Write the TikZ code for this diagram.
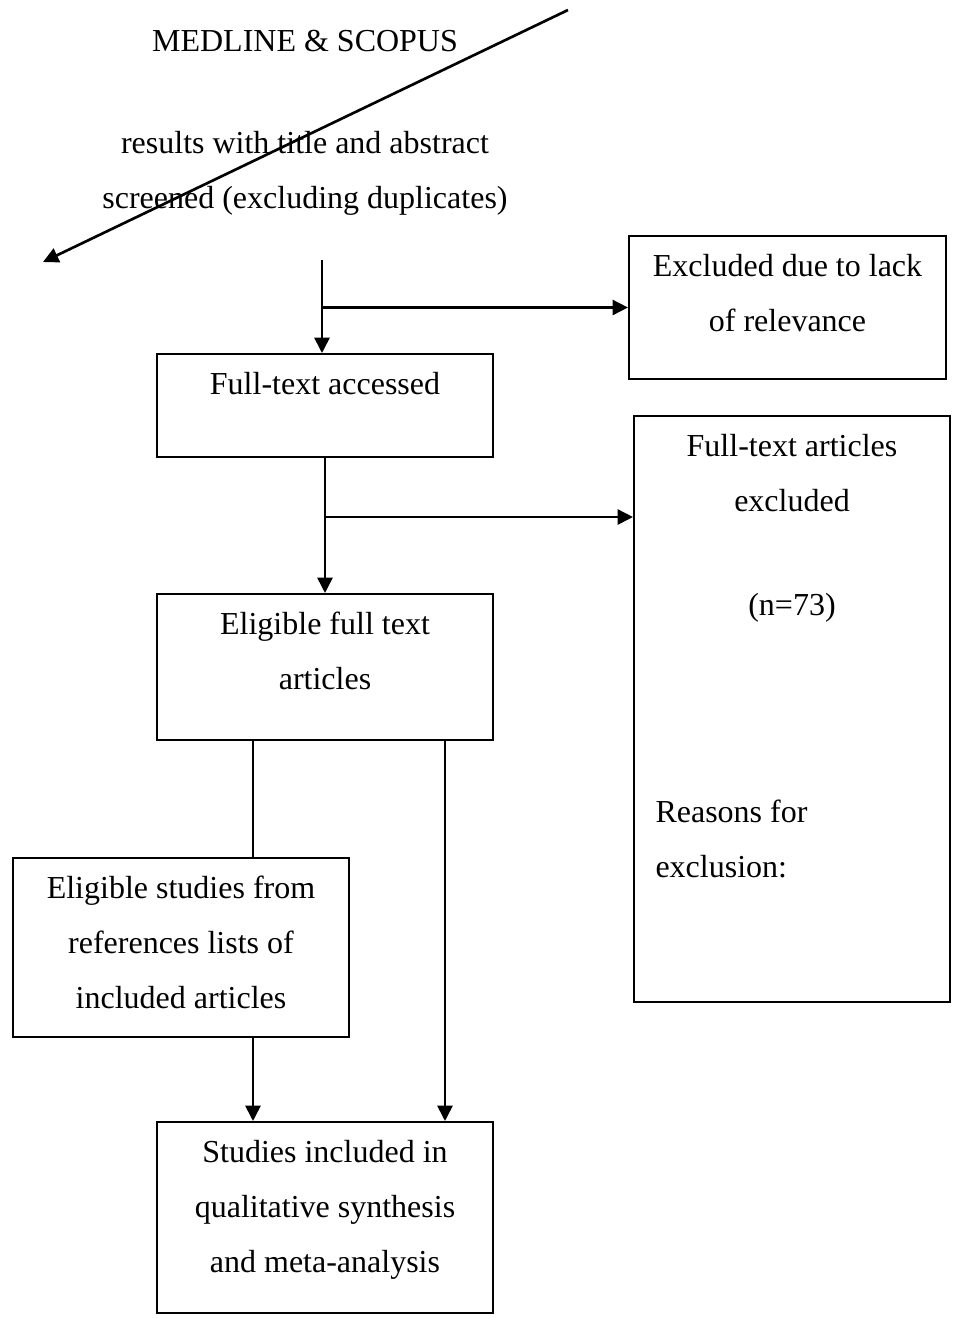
\documentclass[tikz,border=0pt]{standalone}
\usepackage{fontspec}
\setmainfont{Liberation Serif}
\usetikzlibrary{arrows.meta,positioning}
\tikzset{
  box/.style={draw,line width=0.7pt,inner sep=0pt},
  txt/.style={align=center,inner sep=0pt,font=\fontsize{12}{20.6}\selectfont},
  ln/.style={line width=1.1pt},
  arr/.style={ln,-{Triangle[length=5.8pt,width=5.6pt]}}
}
\begin{document}
\begin{tikzpicture}[x=0.375pt,y=-0.375pt]
  \useasboundingbox (0,0) rectangle (953,1319);
  % search
  \node[txt] (db) at (305,41) {MEDLINE \& SCOPUS};
  \node[txt] (screen) at (305,173) {results with title and abstract\\screened (excluding duplicates)};
  % boxes
  \node[box,minimum width=118.9pt,minimum height=53.6pt] (excl) at (787.5,307.5) {};
  \node[box,minimum width=126pt,minimum height=38.6pt] (acc) at (325,405.5) {};
  \node[box,minimum width=118.5pt,minimum height=219.75pt] (full) at (792,709) {};
  \node[box,minimum width=126pt,minimum height=54.75pt] (elig) at (325,667) {};
  \node[box,minimum width=126pt,minimum height=67.1pt] (refs) at (181,947.5) {};
  \node[box,minimum width=126pt,minimum height=71.6pt] (incl) at (325,1217.5) {};
  % box texts
  \node[txt,below=7pt of excl.north] (exclt) {Excluded due to lack\\of relevance};
  \node[txt,below=7pt of acc.north] (acct) {Full-text accessed};
  \node[txt,below=7pt of full.north] (fullt) {Full-text articles\\excluded};
  \node[txt] (nt) at (792,608) {(n=73)};
  \node[txt,align=left,anchor=west] (why) at (655,839) {Reasons for\\exclusion:};
  \node[txt,below=7pt of elig.north] (eligt) {Eligible full text\\articles};
  \node[txt,below=7pt of refs.north] (refst) {Eligible studies from\\references lists of\\included articles};
  \node[txt,below=7pt of incl.north] (inclt) {Studies included in\\qualitative synthesis\\and meta-analysis};
  % connectors
  \coordinate (start) at (568,10); \coordinate (stray) at (43,262);
  \draw[arr,line width=1pt] (start) -- (stray);
  \coordinate (feed) at (322,260);
  \draw[arr] (feed) -- (feed |- acc.north);
  \draw[arr] (feed |- excl.west) -- (excl.west);
  \draw[arr] (acc.south) -- (elig.north);
  \coordinate (split) at (325,517);
  \draw[arr] (split) -- (split -| full.west);
  \coordinate (eL) at ([xshift=-27pt]elig.south); \coordinate (eR) at ([xshift=45pt]elig.south);
  \coordinate (rB) at ([xshift=27pt]refs.south);
  \draw[ln] (eL) -- (eL |- refs.north);
  \draw[arr] (eR) -- (eR |- incl.north);
  \draw[arr] (rB) -- (rB |- incl.north);
\end{tikzpicture}
\end{document}
